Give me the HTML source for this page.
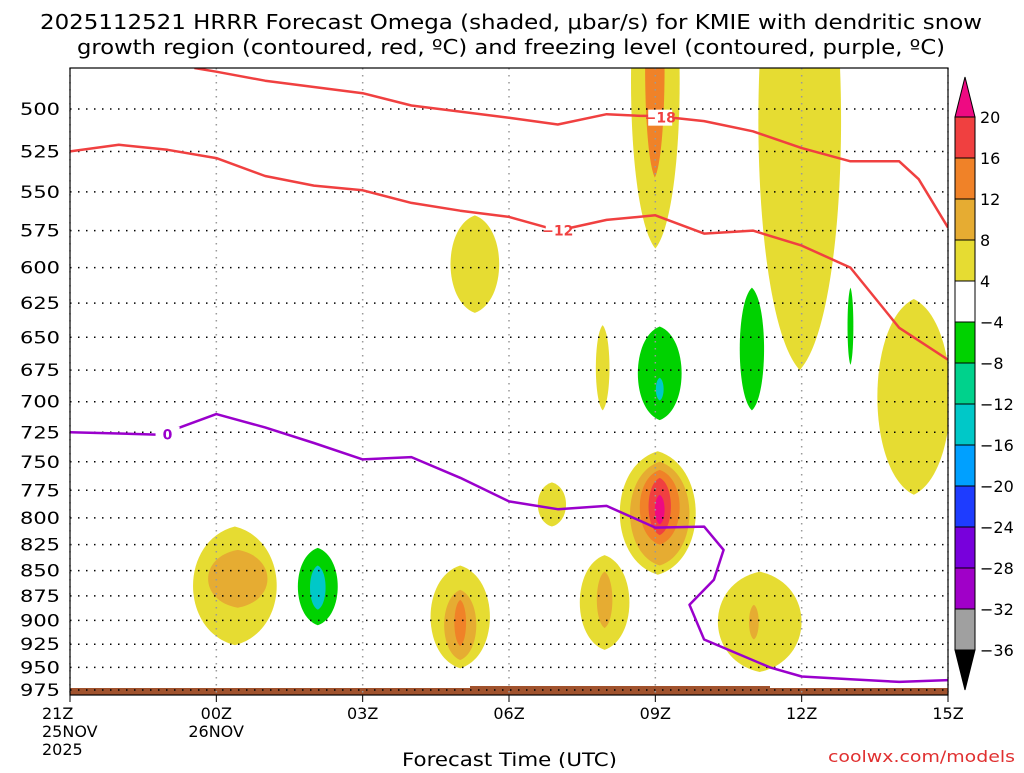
<!DOCTYPE html>
<html><head><meta charset="utf-8"><style>
body{margin:0;background:#fff;width:1024px;height:768px;overflow:hidden}
svg{font-family:"DejaVu Sans","Liberation Sans",sans-serif}
</style></head><body>
<svg id="c" width="1024" height="768">
<text x="40" y="29" font-size="20" textLength="942" lengthAdjust="spacingAndGlyphs">2025112521 HRRR Forecast Omega (shaded, μbar/s) for KMIE with dendritic snow</text>
<text x="77" y="54" font-size="20" textLength="868" lengthAdjust="spacingAndGlyphs">growth region (contoured, red, ºC) and freezing level (contoured, purple, ºC)</text>
<defs><clipPath id="pc"><rect x="70" y="68" width="878" height="627"/></clipPath></defs>
<g id="blobs" clip-path="url(#pc)"></g>
<g id="grid"></g>
<g id="lines" clip-path="url(#pc)"></g>
<rect x="70" y="68" width="878" height="627" fill="none" stroke="#000" stroke-width="1.2"/>
<g id="axes"></g>
<g id="cbar"></g>
<text x="402" y="766" font-size="19" textLength="215" lengthAdjust="spacingAndGlyphs">Forecast Time (UTC)</text>
<text x="828" y="762" font-size="16" fill="#e03030" textLength="187" lengthAdjust="spacingAndGlyphs">coolwx.com/models</text>
</svg>
<script>
// y ticks (pressure hPa)
const pTicks=[500,525,550,575,600,625,650,675,700,725,750,775,800,825,850,875,900,925,950,975];
const tTicks=[0,3,6,9,12,15,18];
const tLabels=["21Z","00Z","03Z","06Z","09Z","12Z","15Z"];
const tSub=[["25NOV","2025"],["26NOV"],[],[],[],[],[]];
// contours: hours since 21Z and pressure
const redHiT=[2.55,3,4,6,7,9,10,11,11.7,12,13,14,15,16,17,17.4,18];
const redHiP=[477,479,484,491,498,505,509,503,504,504,507,513,523,531,531,542,573];
const redLoT=[0,1,2,3,4,5,6,7,8,9,10,11,12,13,14,15,16,17,18];
const redLoP=[525,521,524,529,540,546,549,557,562,566,575,568,565,577,575,585,600,643,667];
const purT=[0,1,1.85,3,4,5,6,7,8,9,10,11,12,13,13.4,13.2,12.7,13,14.35,15,16,17,18];
const purP=[725,726,727,710,721,734,748,746,764,785,792,789,809,808,830,859,884,920,950,960,963,966,964];
// omega blobs: center hour, half-width hours, top p, bottom p, level
const blobT=[12.0,14.96,11.99,8.3,10.92,12.09,12.09,13.98,16.0,17.3,12.05,12.09,12.09,12.09,12.09,10.96,10.96,14.14,14.02,9.88,8.0,8.0,8.0,5.08,5.08,3.38,3.44];
const blobW=[0.5,0.85,0.2,0.5,0.14,0.45,0.08,0.25,0.06,0.75,0.78,0.61,0.41,0.23,0.1,0.51,0.16,0.86,0.1,0.29,0.61,0.33,0.12,0.41,0.16,0.86,0.61];
const blobTop=[400,380,420,565,641,642,681,614,614,622,741,750,757,764,779,835,851,851,884,768,845,869,879,828,845,808,830];
const blobBot=[587,675,541,632,707,715,699,707,671,779,854,845,825,816,806,931,908,955,920,808,951,942,927,905,889,926,887];
const blobLev=[4,4,12,4,4,-4,-12,-4,-4,4,4,8,12,16,20,4,8,4,8,4,4,8,12,-4,-12,4,8];
const cbLevels=[20,16,12,8,4,-4,-8,-12,-16,-20,-24,-28,-32,-36];
const cbColors=["#f04040","#f08228","#e6ac32","#e6dc32","#ffffff","#00d200","#00d28c","#00c8c8","#00a0ff","#1e3cff","#7800dc","#a000c8","#a0a0a0"];
const levColor={4:"#e6dc32",8:"#e6ac32",12:"#f08228",16:"#f04040",20:"#ee0a82","-4":"#00d200","-8":"#00d28c","-12":"#00c8c8"};

const NS="http://www.w3.org/2000/svg";
const X=t=>70+t*878/18;
const Y=p=>109+870*Math.log(p/500);
function mk(tag,a,parent){const e=document.createElementNS(NS,tag);for(const k in a)e.setAttribute(k,a[k]);document.getElementById(parent).appendChild(e);return e;}

blobT.forEach((t,i)=>{
  const cx=X(t),w=blobW[i]*878/18*1.33,yt=Y(blobTop[i]),yb=Y(blobBot[i]),h=yb-yt;
  const d=`M${cx},${yt} C${cx+w},${yt+h*0.12} ${cx+w},${yb-h*0.12} ${cx},${yb} C${cx-w},${yb-h*0.12} ${cx-w},${yt+h*0.12} ${cx},${yt}Z`;
  const e=mk('path',{d:d,fill:levColor[blobLev[i]]},'blobs');
  
  
});
// ground
const g1=mk('rect',{x:70,y:688,width:878,height:7,fill:"#a0522d"},'blobs');


const g2=mk('rect',{x:470,y:686,width:300,height:4,fill:"#a0522d"},'blobs');



pTicks.forEach(p=>{
  const l=mk('line',{x1:70,x2:948,y1:Y(p),y2:Y(p),stroke:"#000","stroke-width":1.5,"stroke-dasharray":"1.5 6.5"},'grid');
  
  
  const tx=mk('text',{x:20,y:Y(p)+6,"font-size":17,textLength:40,lengthAdjust:"spacingAndGlyphs"},'axes');
  tx.textContent=p;
  
  
});
tTicks.forEach((t,i)=>{
  const l=mk('line',{x1:X(t),x2:X(t),y1:68,y2:695,stroke:"#999","stroke-width":1.5,"stroke-dasharray":"1.5 5.5"},'grid');
  
  
  const tk=mk('line',{x1:X(t),x2:X(t),y1:695,y2:702,stroke:"#000"},'axes');
  
  
  const tx=mk('text',{x:i==0?X(t)-28:X(t),y:719,"font-size":16,"text-anchor":i==0?"start":"middle"},'axes');
  tx.textContent=tLabels[i];
  
  
  tSub[i].forEach((s,j)=>{
    const st=mk('text',{x:X(t)-28,y:737+j*18,"font-size":16},'axes');
    st.textContent=s;
    
    
  });
});

function line(T,P,col,name){
  const d=T.map((t,i)=>(i?"L":"M")+X(t).toFixed(1)+","+Y(P[i]).toFixed(1)).join("");
  const e=mk('path',{d:d,fill:"none",stroke:col,"stroke-width":2.5,"stroke-linejoin":"round"},'lines');
  
  
}
line(redHiT,redHiP,"#f04040","dgz-contour-minus18");
line(redLoT,redLoP,"#f04040","dgz-contour-minus12");
line(purT,purP,"#9a00cc","freezing-level-contour");
function clabel(t,p,txt,col){
  const r=mk('rect',{x:X(t)-12,y:Y(p)-8,width:24,height:16,fill:"#fff"},'lines');
  
  
  const e=mk('text',{x:X(t),y:Y(p)+5,"font-size":14,"font-weight":"bold",fill:col,"text-anchor":"middle"},'lines');
  e.textContent=txt;
  
  
}
clabel(12.1,505,"−18","#f04040");
clabel(10,575,"−12","#f04040");
clabel(2,727,"0","#9a00cc");

// colorbar
const cbTop=117,step=41,cx0=955,cw=20;
cbColors.forEach((c,i)=>{
  const r=mk('rect',{x:cx0,y:cbTop+i*step,width:cw,height:step,fill:c,stroke:"#000","stroke-width":1},'cbar');
  
  
});
cbLevels.forEach((v,i)=>{
  const tx=mk('text',{x:980,y:cbTop+i*step+6,"font-size":16},'cbar');
  tx.textContent=(v<0?"−":"")+Math.abs(v);
  
  
});
const tu=mk('polygon',{points:`${cx0},${cbTop} ${cx0+cw},${cbTop} ${cx0+cw/2},${cbTop-40}`,fill:"#ee0a82",stroke:"#000"},'cbar');


const yb=cbTop+13*step;
const td=mk('polygon',{points:`${cx0},${yb} ${cx0+cw},${yb} ${cx0+cw/2},${yb+40}`,fill:"#000",stroke:"#000"},'cbar');


</script>
</body></html>
